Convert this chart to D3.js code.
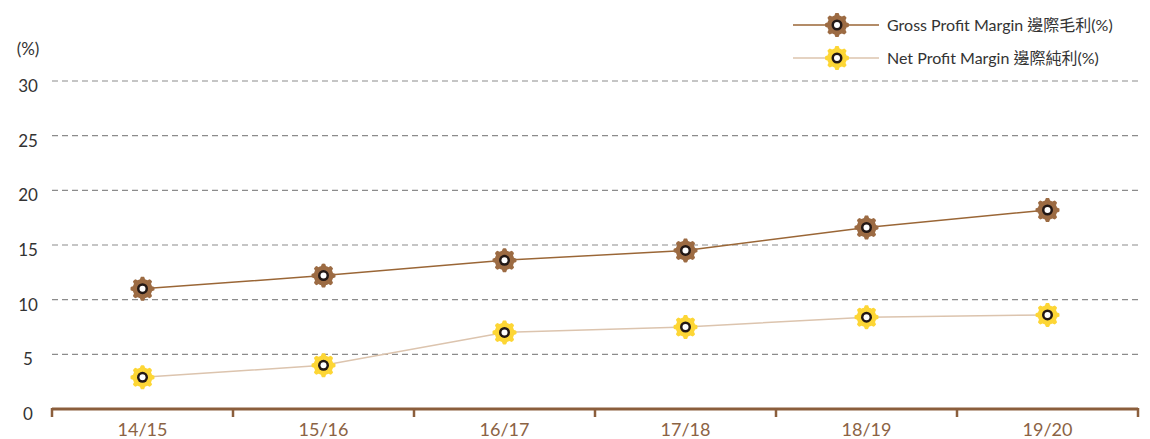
<!DOCTYPE html>
<html>
<head>
<meta charset="utf-8">
<script src="https://cdn.jsdelivr.net/npm/d3@7"></script>
<style>
  body { margin: 0; background: #fff; }
  svg { display: block; font-family: 'Lato', 'Noto Sans CJK TC', sans-serif; }
</style>
</head>
<body>
<div id="chart"></div>
<script>
const years = ['14/15', '15/16', '16/17', '17/18', '18/19', '19/20'];
const grossMargin = [11.0, 12.2, 13.6, 14.5, 16.6, 18.2];
const netMargin = [2.9, 4.0, 7.0, 7.5, 8.4, 8.6];
const yTicks = [0, 5, 10, 15, 20, 25, 30];
const seriesNames = ['Gross Profit Margin 邊際毛利(%)', 'Net Profit Margin 邊際純利(%)'];

const W = 1150, H = 439;
const plotLeft = 52, plotRight = 1138, plotTop = 81, plotBottom = 409;

const svg = d3.select('#chart').append('svg')
  .attr('width', W).attr('height', H);

const x = d3.scaleBand().domain(years).range([plotLeft, plotRight]);
const y = d3.scaleLinear().domain([0, 30]).range([plotBottom, plotTop]);

// gear marker path: a disc with 8 rounded teeth
function gear(rBase, depth, teeth) {
  const pts = [];
  const n = 96;
  for (let i = 0; i < n; i++) {
    const a = (i / n) * Math.PI * 2;
    const w = Math.max(-1, Math.min(1, Math.cos(teeth * a) * 2.2));
    pts.push([a, rBase + depth * (w + 1) / 2]);
  }
  return d3.lineRadial().curve(d3.curveLinearClosed)(pts);
}
const gearPath = gear(9.8, 2.2, 8);

// grid
svg.append('g')
  .selectAll('line')
  .data(yTicks.filter(d => d > 0))
  .enter().append('line')
  .attr('x1', plotLeft).attr('x2', plotRight)
  .attr('y1', d => y(d)).attr('y2', d => y(d))
  .attr('stroke', '#8c8c8c')
  .attr('stroke-width', 1.2)
  .attr('stroke-dasharray', '6,4');

// y labels (sit a little below their gridline, as in the original)
svg.append('g')
  .selectAll('text')
  .data(yTicks)
  .enter().append('text')
  .attr('x', 28).attr('y', d => y(d) + 11)
  .attr('text-anchor', 'middle')
  .attr('font-size', 17)
  .attr('fill', '#333')
  .text(d => d);

svg.append('text')
  .attr('x', 28).attr('y', 55)
  .attr('text-anchor', 'middle')
  .attr('font-size', 17)
  .attr('fill', '#333')
  .text('(%)');

// x axis
const xAxis = svg.append('g')
  .attr('transform', `translate(0,${plotBottom})`)
  .call(d3.axisBottom(x).tickSize(0).tickPadding(14));
xAxis.select('.domain').remove();
xAxis.selectAll('text')
  .attr('font-size', 18)
  .attr('fill', '#8b6344')
  .attr('font-family', 'Lato, sans-serif');

const axisColor = '#8b5e3c';
svg.append('line')
  .attr('x1', plotLeft).attr('x2', plotRight)
  .attr('y1', plotBottom).attr('y2', plotBottom)
  .attr('stroke', axisColor).attr('stroke-width', 3);
const edges = years.map(d => x(d)).concat([plotRight]);
svg.append('g').selectAll('line')
  .data(edges)
  .enter().append('line')
  .attr('x1', d => d).attr('x2', d => d)
  .attr('y1', plotBottom - 1).attr('y2', plotBottom + 8)
  .attr('stroke', axisColor).attr('stroke-width', 2.5);

const series = [
  { values: grossMargin, line: '#9a6636', fill: '#9c6b43' },
  { values: netMargin, line: '#dcc4ae', fill: '#fdd635' }
];

const line = d3.line()
  .x((d, i) => x(years[i]) + x.bandwidth() / 2)
  .y(d => y(d));

function marker(g, fill) {
  g.append('path').attr('d', gearPath).attr('fill', fill);
  g.append('circle').attr('r', 5.5).attr('fill', '#231815');
  g.append('circle').attr('r', 3).attr('fill', '#fff');
}

series.forEach(s => {
  svg.append('path')
    .datum(s.values)
    .attr('d', line)
    .attr('fill', 'none')
    .attr('stroke', s.line)
    .attr('stroke-width', 1.5);

  svg.append('g').selectAll('g')
    .data(s.values)
    .enter().append('g')
    .attr('transform', (d, i) => `translate(${x(years[i]) + x.bandwidth() / 2},${y(d)})`)
    .each(function () { marker(d3.select(this), s.fill); });
});

// legend
const legend = svg.append('g');
series.forEach((s, i) => {
  const ly = 25 + i * 33;
  legend.append('line')
    .attr('x1', 793).attr('x2', 879)
    .attr('y1', ly).attr('y2', ly)
    .attr('stroke', s.line).attr('stroke-width', 1.5);
  const m = legend.append('g').attr('transform', `translate(837,${ly})`);
  marker(m, s.fill);
  legend.append('text')
    .attr('x', 887).attr('y', ly + 6)
    .attr('font-size', 16)
    .attr('fill', '#333')
    .text(seriesNames[i]);
});
</script>
</body>
</html>
